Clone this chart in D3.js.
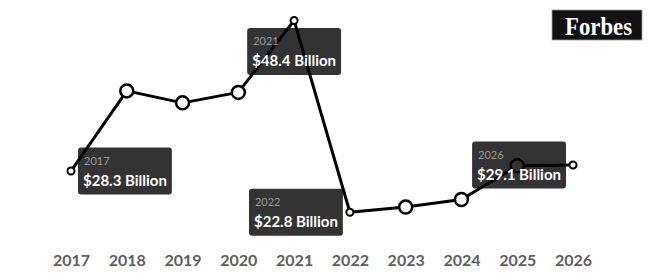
<html>
<head>
<script src="https://d3js.org/d3.v7.min.js"></script>
<style>
body { margin: 0; background: #fff; }
svg { display: block; }
</style>
</head>
<body>
<div id="chart"></div>
<script>
// data
var years = ["2017", "2018", "2019", "2020", "2021", "2022", "2023", "2024", "2025", "2026"];
var values = [28.3, 39.0, 37.4, 38.8, 48.4, 22.8, 23.5, 24.5, 29.0, 29.1];
// which points carry a callout, and on which side of the point it sits
var calloutYears = ["2017", "2021", "2022", "2026"];
var calloutSide = ["right", "below", "left", "left"];

var width = 650, height = 280;

var svg = d3.select("#chart").append("svg")
  .attr("width", width).attr("height", height);

var x = d3.scalePoint().domain(years).range([71, 573]);
var y = d3.scaleLinear().domain([20, 50]).range([233.2, 8.5]);

var pts = years.map((yr, i) => ({ year: yr, value: values[i] }));

// x axis labels
var xAxis = d3.axisBottom(x).tickSize(0).tickPadding(0);
var gx = svg.append("g").attr("transform", "translate(0,255)").call(xAxis);
gx.select(".domain").remove();
gx.selectAll("text")
  .attr("dy", "0.71em")
  .style("font-family", "Lato, sans-serif")
  .style("font-weight", "bold")
  .style("font-size", "16px")
  .style("fill", "#5e5e5e");

// line
var line = d3.line().x(d => x(d.year)).y(d => y(d.value));
svg.append("path").datum(pts)
  .attr("d", line)
  .attr("fill", "none")
  .attr("stroke", "#000")
  .attr("stroke-width", 3)
  .attr("stroke-linejoin", "round");

// markers: small ones where a callout is, big ones elsewhere
svg.selectAll(".dot").data(pts).enter().append("circle")
  .attr("class", "dot")
  .attr("cx", d => x(d.year))
  .attr("cy", d => y(d.value))
  .attr("r", d => calloutYears.includes(d.year) ? 3.5 : 6.5)
  .attr("fill", "#fff")
  .attr("stroke", "#000")
  .attr("stroke-width", d => calloutYears.includes(d.year) ? 2 : 2.5);

// callouts
var boxH = 47;
calloutYears.forEach(function(yr, i) {
  var d = pts.find(p => p.year == yr);
  var px = x(d.year), py = y(d.value);
  var g = svg.append("g");
  var rect = g.append("rect").attr("rx", 3).attr("ry", 3)
    .attr("fill", "#000").attr("fill-opacity", 0.8);
  var t1 = g.append("text").text(yr)
    .attr("x", 6).attr("y", 17)
    .style("font-family", "Lato, sans-serif")
    .style("font-size", "11px")
    .style("fill", "#9a9a9a");
  var t2 = g.append("text").text("$" + d.value.toFixed(1) + " Billion")
    .attr("x", 5).attr("y", 38)
    .style("font-family", "Lato, sans-serif")
    .style("font-weight", "bold")
    .style("font-size", "15px")
    .style("fill", "#fff");
  var w = t2.node().getComputedTextLength() + 10;
  rect.attr("width", w).attr("height", boxH);
  var bx, by;
  if (calloutSide[i] == "right") { bx = px + 7; by = py - boxH / 2; }
  else if (calloutSide[i] == "left") { bx = px - 7 - w; by = py - boxH / 2; }
  else { bx = px - w / 2; by = py + 7.5; }
  g.attr("transform", "translate(" + bx + "," + by + ")");
});

// Forbes logo
var logo = svg.append("g").attr("transform", "translate(552,10)");
logo.append("rect").attr("width", 90).attr("height", 30)
  .attr("fill", "#111").attr("stroke", "#999").attr("stroke-width", 0.8);
logo.append("text").text("Forbes")
  .attr("x", 13).attr("y", 25)
  .attr("textLength", 67).attr("lengthAdjust", "spacingAndGlyphs")
  .style("font-family", "'Liberation Serif', serif")
  .style("font-weight", "bold")
  .style("font-size", "25px")
  .style("fill", "#fff");
</script>
</body>
</html>
